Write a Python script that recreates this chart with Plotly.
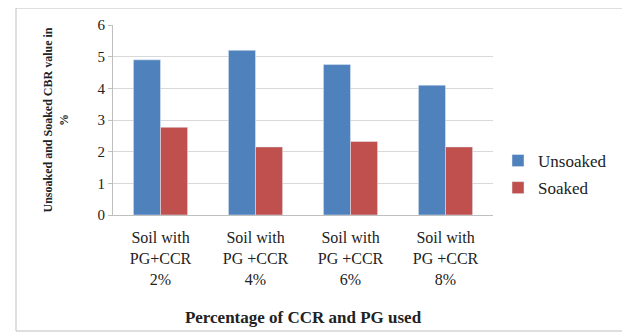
import plotly.graph_objects as go

categories = ["Soil with<br>PG+CCR<br>2%", "Soil with<br>PG +CCR<br>4%",
              "Soil with<br>PG +CCR<br>6%", "Soil with<br>PG +CCR<br>8%"]
unsoaked = [4.9, 5.2, 4.75, 4.1]
soaked = [2.77, 2.15, 2.32, 2.15]
y_ticks = [0, 1, 2, 3, 4, 5, 6]

FONT = "Liberation Serif, Times New Roman, serif"
OFF = 8  # page body margin
W, H = 630 - OFF, 336 - OFF
# target pixel positions in the window
PL, PR, PT, PB = 113, 493, 25, 215
L, T = PL - OFF, PT - OFF
R, B = W - (PR - OFF), H - (PB - OFF)
pw, ph = PR - PL, PB - PT

def px_x(p):
    return (p - PL) / pw

def px_y(p):
    return (PB - p) / ph

fig = go.Figure()
fig.add_trace(go.Bar(x=categories, y=unsoaked, name="Unsoaked", marker_color="#4F81BD",
                     legendgroup="u"))
fig.add_trace(go.Bar(x=categories, y=soaked, name="Soaked", marker_color="#C0504D",
                     legendgroup="s"))

fig.update_layout(
    width=W, height=H,
    margin=dict(l=L, r=R, t=T, b=B, autoexpand=False),
    paper_bgcolor="white", plot_bgcolor="white",
    barmode="group", bargap=0.43, bargroupgap=0,
    font=dict(family=FONT, size=16, color="#222"),
    showlegend=True,
    legend=dict(x=px_x(498), y=px_y(143), xanchor="left", yanchor="top",
                font=dict(family=FONT, size=17, color="#222"),
                itemwidth=30, tracegroupgap=2),
    xaxis=dict(showgrid=False, showline=True, linecolor="#BFBFBF",
               ticks="outside", ticklen=8, tickcolor="rgba(0,0,0,0)",
               automargin=False,
               tickfont=dict(family=FONT, size=16, color="#222"),
               title=dict(text="<b>Percentage of CCR and PG used</b>",
                          font=dict(family=FONT, size=17, color="#222"), standoff=24)),
    yaxis=dict(range=[0, 6], tickvals=y_ticks, showgrid=True, gridcolor="#D9D9D9",
               automargin=False,
               showline=True, linecolor="#BFBFBF", ticks="outside", ticklen=4,
               tickcolor="#BFBFBF", zeroline=False,
               tickfont=dict(family=FONT, size=15, color="#222"),
               title=dict(text="<b>Unsoaked and Soaked CBR value in<br>%</b>",
                          font=dict(family=FONT, size=12, color="#222"), standoff=26)),
    shapes=[dict(type="rect", xref="paper", yref="paper",
                 x0=px_x(16), x1=px_x(624), y0=px_y(331), y1=px_y(8),
                 line=dict(color="#BFBFBF", width=1), layer="below")],
)

fig.write_html("out.html")
